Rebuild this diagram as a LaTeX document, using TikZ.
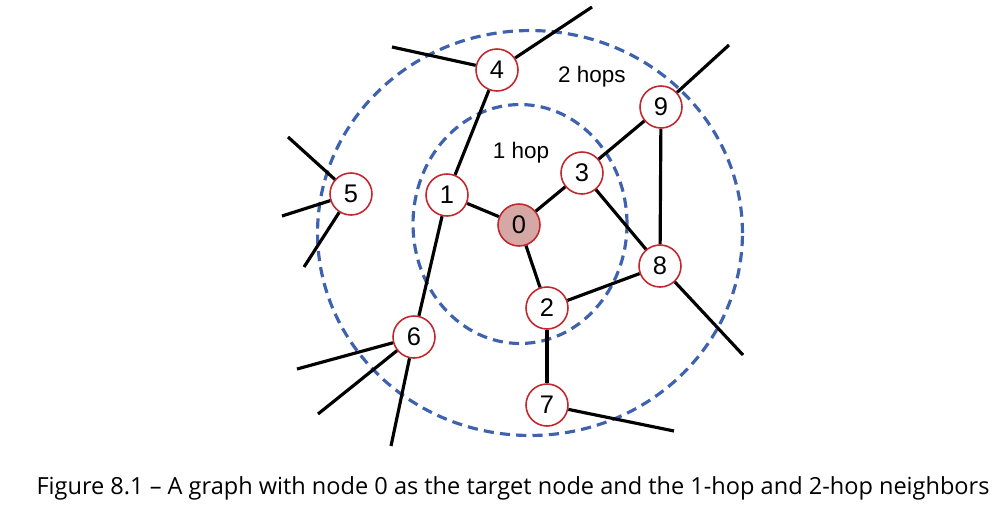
\documentclass[tikz,border=0pt]{standalone}
\usepackage{fontspec}
\setmainfont{Liberation Sans}
\newfontfamily\capfont{Open Sans}
\usetikzlibrary{positioning,calc}
\definecolor{ring}{HTML}{C1272D}
\definecolor{hit}{HTML}{D6A8A5}
\definecolor{hopline}{HTML}{3F62AE}
\tikzset{
  vert/.style  ={circle, draw=ring, line width=0.9pt, fill=white,
                 minimum size=0.84cm, inner sep=0pt, font=\fontsize{14.5}{14.5}\selectfont},
  target/.style={vert, fill=hit},
  % hop boundaries: thick blue dashes
  hop/.style   ={draw=hopline, line width=1.8pt, dash pattern=on 5.8pt off 3.5pt},
  link/.style  ={draw=black, line width=1.8pt},
  hoptag/.style={font=\fontsize{12.8}{12.8}\selectfont},
}
\begin{document}
\begin{tikzpicture}[x=0.02cm, y=-0.02cm]
    \useasboundingbox (0,0) rectangle (1007,505);
    \draw[hop] (530,233) ellipse [x radius=4.25cm, y radius=4.05cm];
    \draw[hop] (520,224) ellipse [x radius=2.14cm, y radius=2.39cm];
    \node[target] (n0) at (519,225) {0};
    \node[vert]   (n1) at (447,195) {1};
    \node[vert]   (n2) at (547,308) {2};
    \node[vert]   (n3) at (582,173) {3};
    \node[vert]   (n4) at (497,70)  {4};
    \node[vert]   (n5) at (351,194) {5};
    \node[vert]   (n6) at (414,337) {6};
    \node[vert]   (n7) at (547,405) {7};
    \node[vert]   (n8) at (660,266) {8};
    \node[vert]   (n9) at (661,107) {9};
    \node[hoptag] (t1) at (521,153) {1 hop};
    \node[hoptag] (t2) at (592,77)  {2 hops};
    % loose ends leaving the picture
    \coordinate (e4a) at (392,47);  \coordinate (e4b) at (592,7);
    \coordinate (e9)  at (729,45);
    \coordinate (e5a) at (288,137); \coordinate (e5b) at (282,216);
    \coordinate (e5c) at (304,267);
    \coordinate (e8)  at (743,355);
    \coordinate (e6a) at (297,369); \coordinate (e6b) at (318,414);
    \coordinate (e6c) at (391,446);
    \coordinate (e7)  at (674,431);
    \draw[link] (n0) -- (n1);  \draw[link] (n0) -- (n3);
    \draw[link] (n0) -- (n2);  \draw[link] (n1) -- (n4);
    \draw[link] (n1) -- (n6);  \draw[link] (n3) -- (n9);
    \draw[link] (n3) -- (n8);  \draw[link] (n9) -- (n8);
    \draw[link] (n2) -- (n8);  \draw[link] (n2) -- (n7);
    \draw[link] (n4) -- (e4a); \draw[link] (n4) -- (e4b);
    \draw[link] (n9) -- (e9);  \draw[link] (n8) -- (e8);
    \draw[link] (n5) -- (e5a); \draw[link] (n5) -- (e5b);
    \draw[link] (n5) -- (e5c); \draw[link] (n7) -- (e7);
    \draw[link] (n6) -- (e6a); \draw[link] (n6) -- (e6b);
    \draw[link] (n6) -- (e6c);
    \node[font=\capfont\fontsize{13.4}{13.4}\selectfont] (cap) at (513,488)
      {Figure 8.1 – A graph with node 0 as the target node and the 1-hop and 2-hop neighbors};
  \end{tikzpicture}
\end{document}
